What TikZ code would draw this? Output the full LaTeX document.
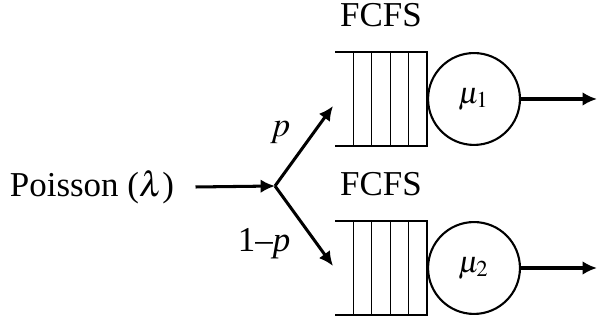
\documentclass[tikz,border=0pt]{standalone}
\usepackage{mathptmx}
\usepackage{fontspec}
\setmainfont{Liberation Serif}
\usepackage{tikz}
\usetikzlibrary{positioning,calc,arrows.meta}
\tikzset{
    queuebox/.style={
        rectangle, minimum width=24.2pt, minimum height=24.8pt,
        inner sep=0pt, outer sep=0pt
    },
    server/.style={
        circle, draw, minimum size=24.2pt, font=\footnotesize,
        inner sep=0pt, outer sep=0pt, line width=0.55pt
    },
    flow/.style={
        -{Latex[length=3.8pt,width=3.6pt]}, line width=0.8pt
    },
    problabel/.style={
        inner sep=2pt
    }
}

\begin{document}
\begin{tikzpicture}[x=0.2634pt, y=-0.2634pt,
    every node/.style={font=\fontsize{9.2}{11}\selectfont}]
    \useasboundingbox (0,0) rectangle (598,325);
    % Nodes
    \node (poisson) at (92,187) {Poisson ($\lambda$)};
    \coordinate (split) at (275,186);
    \node[queuebox] (q1) at (381,99) {};
    \node[queuebox] (q2) at (381,268) {};
    \node[server] (s1) at (474,99) {$\mu_1$};
    \node[server] (s2) at (474,268) {$\mu_2$};
    \node[above=3pt of q1] (f1) {FCFS};
    \node[above=3pt of q2] (f2) {FCFS};
    \coordinate (in1) at (333,106);
    \coordinate (in2) at (333,266);
    \coordinate (out1) at (597,99);
    \coordinate (out2) at (597,268);
    % Queues
    \foreach \q in {q1,q2} {
        \draw[line width=0.55pt] (\q.north west) -- (\q.north east)
            -- (\q.south east) -- (\q.south west);
        \foreach \i in {1,...,4} {
            \draw[line width=0.3pt] ($(\q.north west)!\i/5!(\q.north east)$)
                -- ($(\q.south west)!\i/5!(\q.south east)$);
        }
    }
    % Arrows
    \draw[flow] (poisson.east) ++(8,0) coordinate (src) (src) -- (split);
    \draw[flow] (split) -- node[problabel, pos=0.42, above left] {$p$} (in1);
    \draw[flow] (split) -- node[problabel, pos=0.42, below left] {1--\textit{p}} (in2);
    \draw[flow] (s1) -- (out1);
    \draw[flow] (s2) -- (out2);
\end{tikzpicture}
\end{document}
